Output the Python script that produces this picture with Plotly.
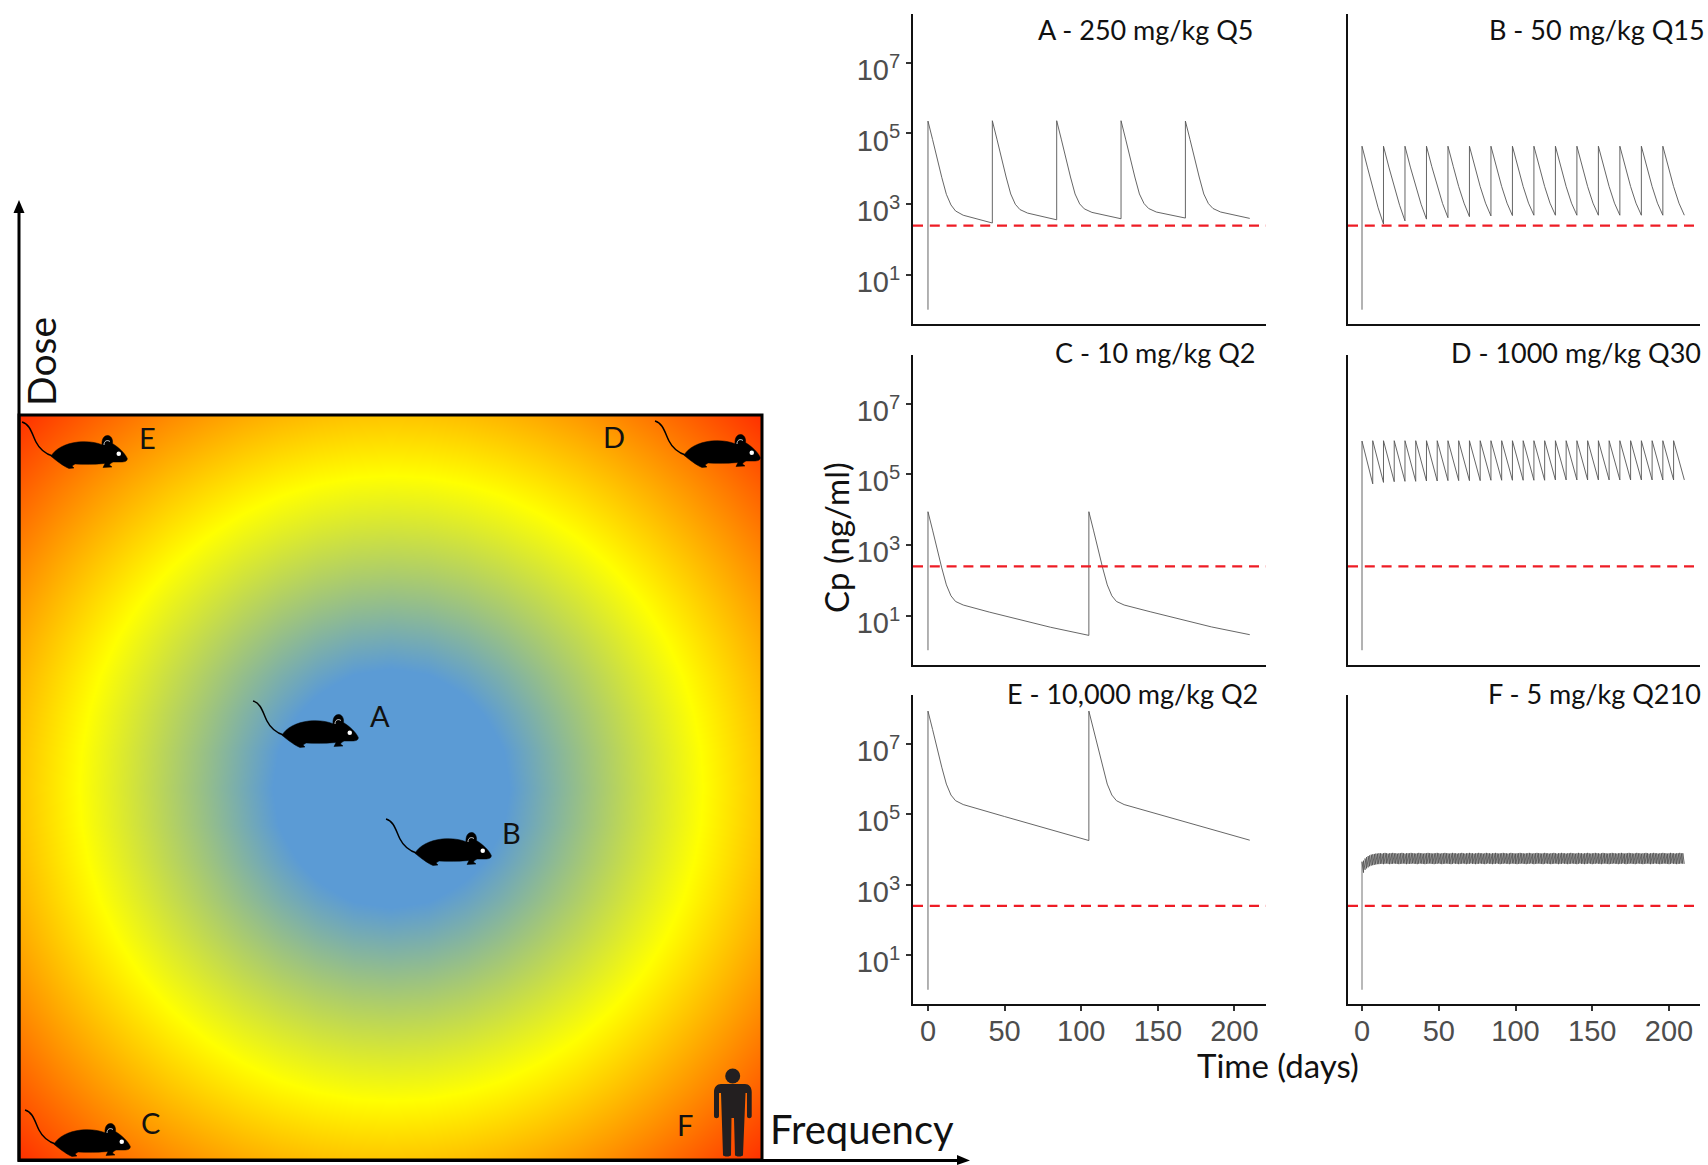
import re
import plotly.graph_objects as go

W, H = 1708, 1165

# ---------- data (log10 concentration in ng/ml) ----------
threshold_log = 2.395
x_ticks = [0, 50, 100, 150, 200]
y_ticks = [1, 3, 5, 7]
panel_titles = ["A - 250 mg/kg Q5", "B - 50 mg/kg Q15", "C - 10 mg/kg Q2",
                "D - 1000 mg/kg Q30", "E - 10,000 mg/kg Q2", "F - 5 mg/kg Q210"]

A_time = [0, 0, 3, 6, 9, 12, 15, 18, 23, 42,
          42, 45, 48, 51, 54, 57, 60, 65, 84,
          84, 87, 90, 93, 96, 99, 102, 107, 126,
          126, 129, 132, 135, 138, 141, 144, 149, 168,
          168, 171, 174, 177, 180, 183, 186, 191, 210]
A_conc = [0.02, 5.35, 4.83, 4.26, 3.76, 3.28, 2.98, 2.81, 2.69, 2.47,
          5.36, 4.84, 4.27, 3.77, 3.29, 3.00, 2.85, 2.75, 2.56,
          5.36, 4.84, 4.27, 3.77, 3.29, 3.01, 2.87, 2.77, 2.59,
          5.36, 4.84, 4.27, 3.77, 3.29, 3.02, 2.88, 2.78, 2.61,
          5.35, 4.83, 4.27, 3.77, 3.29, 3.02, 2.88, 2.78, 2.60]

B_time = [0, 0, 3.5, 7, 10.5, 14, 14, 17.5, 21, 24.5, 28, 28, 31.5, 35, 38.5, 42,
          42, 45.5, 49, 52.5, 56, 56, 59.5, 63, 66.5, 70, 70, 73.5, 77, 80.5, 84,
          84, 87.5, 91, 94.5, 98, 98, 101.5, 105, 108.5, 112, 112, 115.5, 119, 122.5, 126,
          126, 129.5, 133, 136.5, 140, 140, 143.5, 147, 150.5, 154, 154, 157.5, 161, 164.5, 168,
          168, 171.5, 175, 178.5, 182, 182, 185.5, 189, 192.5, 196, 196, 199.5, 203, 206.5, 210]
B_conc = [0.02, 4.64, 4.05, 3.45, 2.90, 2.44, 4.64, 4.05, 3.48, 2.97, 2.53, 4.64, 4.05, 3.49, 3.00, 2.58,
          4.64, 4.06, 3.50, 3.02, 2.62, 4.64, 4.06, 3.50, 3.03, 2.65, 4.64, 4.06, 3.50, 3.03, 2.67,
          4.64, 4.06, 3.50, 3.03, 2.68, 4.64, 4.06, 3.50, 3.03, 2.69, 4.64, 4.06, 3.50, 3.03, 2.69,
          4.64, 4.06, 3.50, 3.03, 2.69, 4.64, 4.06, 3.50, 3.03, 2.69, 4.64, 4.06, 3.50, 3.03, 2.69,
          4.64, 4.06, 3.50, 3.03, 2.69, 4.64, 4.06, 3.50, 3.03, 2.69, 4.64, 4.06, 3.50, 3.03, 2.69]

C_time = [0, 0, 3, 6, 9, 12, 15, 18, 23, 40, 60, 80, 105,
          105, 108, 111, 114, 117, 120, 123, 128, 145, 165, 185, 210]
C_conc = [0.02, 3.94, 3.42, 2.85, 2.35, 1.87, 1.56, 1.40, 1.30, 1.10, 0.88, 0.67, 0.44,
          3.94, 3.42, 2.85, 2.35, 1.87, 1.56, 1.40, 1.30, 1.11, 0.89, 0.68, 0.46]

D_time = [0, 0, 7, 7, 14, 14, 21, 21, 28, 28, 35, 35, 42, 42, 49, 49, 56, 56, 63, 63,
          70, 70, 77, 77, 84, 84, 91, 91, 98, 98, 105, 105, 112, 112, 119, 119, 126, 126,
          133, 133, 140, 140, 147, 147, 154, 154, 161, 161, 168, 168, 175, 175, 182, 182,
          189, 189, 196, 196, 203, 203, 210]
D_conc = [0.02, 5.94, 4.73, 5.95, 4.77, 5.95, 4.79, 5.95, 4.80, 5.95, 4.80, 5.95, 4.81, 5.95, 4.81, 5.95, 4.82, 5.95, 4.82, 5.95,
          4.82, 5.95, 4.82, 5.95, 4.83, 5.95, 4.83, 5.95, 4.83, 5.95, 4.83, 5.95, 4.83, 5.95, 4.83, 5.95, 4.84, 5.95,
          4.84, 5.95, 4.84, 5.95, 4.84, 5.95, 4.84, 5.95, 4.84, 5.95, 4.84, 5.95, 4.84, 5.95, 4.84, 5.95,
          4.84, 5.95, 4.84, 5.95, 4.84, 5.95, 4.84]

E_time = [0, 0, 3, 6, 9, 12, 15, 18, 23, 50, 75, 105,
          105, 108, 111, 114, 117, 120, 123, 128, 155, 180, 210]
E_conc = [0.02, 7.92, 7.40, 6.83, 6.33, 5.85, 5.54, 5.38, 5.27, 4.93, 4.62, 4.25,
          7.92, 7.40, 6.83, 6.33, 5.85, 5.54, 5.38, 5.27, 4.94, 4.63, 4.26]

F_peak = [3.65, 3.68, 3.74, 3.78, 3.81, 3.83, 3.85, 3.86, 3.87, 3.88,
          3.88, 3.89, 3.89, 3.88, 3.89, 3.90, 3.89, 3.88, 3.89, 3.89,
          3.90, 3.89, 3.89, 3.88, 3.89, 3.89, 3.90, 3.89, 3.88, 3.89,
          3.89, 3.89, 3.90, 3.89, 3.89, 3.88, 3.89, 3.90, 3.89, 3.89,
          3.88, 3.89, 3.89, 3.90, 3.89, 3.89, 3.88, 3.89, 3.89, 3.90,
          3.89, 3.88, 3.89, 3.89, 3.90, 3.89, 3.89, 3.88, 3.89, 3.90,
          3.89, 3.89, 3.88, 3.89, 3.89, 3.90, 3.89, 3.88, 3.89, 3.89,
          3.90, 3.89, 3.89, 3.88, 3.89, 3.89, 3.90, 3.89, 3.89, 3.88,
          3.89, 3.90, 3.89, 3.89, 3.88, 3.89, 3.89, 3.90, 3.89, 3.88,
          3.89, 3.89, 3.90, 3.89, 3.89, 3.88, 3.89, 3.90, 3.89, 3.89,
          3.88, 3.89, 3.89, 3.90, 3.89, 3.89, 3.88, 3.89, 3.89, 3.90,
          3.89, 3.88, 3.89, 3.89, 3.90, 3.89, 3.89, 3.88, 3.89, 3.90,
          3.89, 3.89, 3.88, 3.89, 3.89, 3.90, 3.89, 3.88, 3.89, 3.89,
          3.90, 3.89, 3.89, 3.88, 3.89, 3.89, 3.90, 3.89, 3.89, 3.88,
          3.89, 3.90, 3.89, 3.89, 3.88, 3.89, 3.89, 3.90, 3.89, 3.88,
          3.89, 3.89, 3.90, 3.89, 3.89, 3.88, 3.89, 3.90, 3.89, 3.89,
          3.88, 3.89, 3.89, 3.90, 3.89, 3.89, 3.88, 3.89, 3.89, 3.90,
          3.89, 3.88, 3.89, 3.89, 3.90, 3.89, 3.89, 3.88, 3.89, 3.90,
          3.89, 3.89, 3.88, 3.89, 3.89, 3.90, 3.89, 3.88, 3.89, 3.89,
          3.90, 3.89, 3.89, 3.88, 3.89, 3.89, 3.90, 3.89, 3.89, 3.88,
          3.89, 3.90, 3.89, 3.89, 3.88, 3.89, 3.89, 3.90, 3.89, 3.89]
F_trough = [3.34, 3.42, 3.46, 3.49, 3.52, 3.54, 3.55, 3.56, 3.57, 3.58,
            3.58, 3.59, 3.59, 3.58, 3.59, 3.60, 3.59, 3.58, 3.59, 3.59,
            3.60, 3.59, 3.59, 3.58, 3.59, 3.59, 3.60, 3.59, 3.58, 3.59,
            3.59, 3.59, 3.60, 3.59, 3.59, 3.58, 3.59, 3.60, 3.59, 3.59,
            3.58, 3.59, 3.59, 3.60, 3.59, 3.59, 3.58, 3.59, 3.59, 3.60,
            3.59, 3.58, 3.59, 3.59, 3.60, 3.59, 3.59, 3.58, 3.59, 3.60,
            3.59, 3.59, 3.58, 3.59, 3.59, 3.60, 3.59, 3.58, 3.59, 3.59,
            3.60, 3.59, 3.59, 3.58, 3.59, 3.59, 3.60, 3.59, 3.59, 3.58,
            3.59, 3.60, 3.59, 3.59, 3.58, 3.59, 3.59, 3.60, 3.59, 3.58,
            3.59, 3.59, 3.60, 3.59, 3.59, 3.58, 3.59, 3.60, 3.59, 3.59,
            3.58, 3.59, 3.59, 3.60, 3.59, 3.59, 3.58, 3.59, 3.59, 3.60,
            3.59, 3.58, 3.59, 3.59, 3.60, 3.59, 3.59, 3.58, 3.59, 3.60,
            3.59, 3.59, 3.58, 3.59, 3.59, 3.60, 3.59, 3.58, 3.59, 3.59,
            3.60, 3.59, 3.59, 3.58, 3.59, 3.59, 3.60, 3.59, 3.59, 3.58,
            3.59, 3.60, 3.59, 3.59, 3.58, 3.59, 3.59, 3.60, 3.59, 3.58,
            3.59, 3.59, 3.60, 3.59, 3.59, 3.58, 3.59, 3.60, 3.59, 3.59,
            3.58, 3.59, 3.59, 3.60, 3.59, 3.59, 3.58, 3.59, 3.59, 3.60,
            3.59, 3.58, 3.59, 3.59, 3.60, 3.59, 3.59, 3.58, 3.59, 3.60,
            3.59, 3.59, 3.58, 3.59, 3.59, 3.60, 3.59, 3.58, 3.59, 3.59,
            3.60, 3.59, 3.59, 3.58, 3.59, 3.59, 3.60, 3.59, 3.59, 3.58,
            3.59, 3.60, 3.59, 3.59, 3.58, 3.59, 3.59, 3.60, 3.59, 3.59]

# left panel: position in the dose/frequency plane (distance from the optimum)
plane_axis = [-10, -9, -8, -7, -6, -5, -4, -3, -2, -1, 0, 1, 2, 3, 4, 5, 6, 7, 8, 9, 10]
plane_quarter = [
    [0, 1, 2, 3, 4, 5, 6, 7, 8, 9, 10],
    [1, 1.41, 2.24, 3.16, 4.12, 5.10, 6.08, 7.07, 8.06, 9.06, 10.05],
    [2, 2.24, 2.83, 3.61, 4.47, 5.39, 6.32, 7.28, 8.25, 9.22, 10.2],
    [3, 3.16, 3.61, 4.24, 5, 5.83, 6.71, 7.62, 8.54, 9.49, 10.44],
    [4, 4.12, 4.47, 5, 5.66, 6.40, 7.21, 8.06, 8.94, 9.85, 10.77],
    [5, 5.10, 5.39, 5.83, 6.40, 7.07, 7.81, 8.60, 9.43, 10.30, 11.18],
    [6, 6.08, 6.32, 6.71, 7.21, 7.81, 8.49, 9.22, 10, 10.82, 11.66],
    [7, 7.07, 7.28, 7.62, 8.06, 8.60, 9.22, 9.90, 10.63, 11.40, 12.21],
    [8, 8.06, 8.25, 8.54, 8.94, 9.43, 10, 10.63, 11.31, 12.04, 12.81],
    [9, 9.06, 9.22, 9.49, 9.85, 10.30, 10.82, 11.40, 12.04, 12.73, 13.45],
    [10, 10.05, 10.2, 10.44, 10.77, 11.18, 11.66, 12.21, 12.81, 13.45, 14.14],
]
plane_labels = ["A", "B", "C", "D", "E", "F"]

# ---------- helpers ----------
def px(x): return x / W
def py(y): return 1 - y / H
def ten(vals): return [10 ** v for v in vals]

def to_paper(path, ox=0, oy=0):
    return re.sub(r"(-?[\d.]+),(-?[\d.]+)",
                  lambda m: f"{px(float(m[1]) + ox):.5f},{py(float(m[2]) + oy):.5f}", path)

fig = go.Figure()
shapes, annotations = [], []

# ---------- left gradient plane ----------
half = [list(reversed(r[1:])) + r for r in plane_quarter]
plane_z = list(reversed(half[1:])) + half
zmax = 14.14
fig.add_trace(go.Heatmap(
    x=plane_axis, y=plane_axis, z=plane_z, zmin=0, zmax=zmax, zsmooth="best", showscale=False,
    hoverinfo="skip", xaxis="x7", yaxis="y7",
    colorscale=[[0, "#5b9bd5"], [3.2 / zmax, "#5b9bd5"], [8.4 / zmax, "#ffff00"], [1, "#ff3000"]]))
PL, PR, PT, PB = 20, 762, 416, 1160
layout_axes = {
    "xaxis7": dict(domain=[px(PL), px(PR)], range=[-10, 10], visible=False, anchor="y7"),
    "yaxis7": dict(domain=[py(PB), py(PT)], range=[-10, 10], visible=False, anchor="x7"),
}

# ---------- small panels ----------
panels = [
    (A_time, A_conc, 913, 1266, 14, 324, -9.77, 220.6),
    (B_time, B_conc, 1348, 1700, 14, 324, -9.12, 220.2),
    (C_time, C_conc, 913, 1266, 355, 664.5, -9.77, 220.6),
    (D_time, D_conc, 1348, 1700, 355, 664.5, -9.12, 220.2),
    (E_time, E_conc, 913, 1266, 695, 1004, -9.77, 220.6),
    ([], [], 1348, 1700, 695, 1004, -9.12, 220.2),
]
F_x, F_y = [0], [0.02]
for d, (p, t) in enumerate(zip(F_peak, F_trough)):
    F_x += [d, d + 1]
    F_y += [p, t]

title_pos = [(1256, 29), (1707, 29), (1258, 352), (1703, 352), (1260, 693), (1703, 693)]
for i, (tx, ty, l, r, t, b, x0, x1) in enumerate(panels):
    n = i + 1
    if i == 5:
        tx, ty = F_x, F_y
    fig.add_trace(go.Scatter(x=tx, y=ten(ty), mode="lines", xaxis=f"x{n}", yaxis=f"y{n}",
                             line=dict(color="#555555" if i < 5 else "#444444", width=0.9 if i < 5 else 0.75),
                             hoverinfo="skip"))
    fig.add_trace(go.Scatter(x=[x0, x1], y=ten([threshold_log, threshold_log]), mode="lines",
                             xaxis=f"x{n}", yaxis=f"y{n}",
                             line=dict(color="#ee1c25", width=2.2, dash="10px,6.8px"), hoverinfo="skip"))
    bottom = i >= 4
    left = i % 2 == 0
    layout_axes[f"xaxis{n}"] = dict(
        domain=[px(l), px(r)], range=[x0, x1], anchor=f"y{n}", showgrid=False, zeroline=False,
        showline=True, linecolor="#111111", linewidth=2,
        tickmode="array", tickvals=x_ticks if bottom else [], ticks="outside" if bottom else "",
        ticklen=5, tickwidth=1.5, tickcolor="#333333", ticklabelstandoff=-5 if bottom else 0,
        showticklabels=bottom, tickfont=dict(family="Liberation Sans", size=29, color="#4d4d4d"))
    layout_axes[f"yaxis{n}"] = dict(
        type="log", domain=[py(b), py(t)], range=[-0.384, 8.376], anchor=f"x{n}", showgrid=False,
        zeroline=False, showline=True, linecolor="#111111", linewidth=2,
        tickmode="array", tickvals=[10 ** v for v in y_ticks] if left else [],
        ticktext=[f"10<sup>{v}</sup>" for v in y_ticks] if left else [],
        ticks="outside" if left else "", ticklen=5, tickwidth=1.5, tickcolor="#333333",
        ticklabelshift=7 if left else 0,
        showticklabels=left, tickfont=dict(family="Liberation Sans", size=29, color="#4d4d4d"))
    annotations.append(dict(xref="paper", yref="paper", x=px(title_pos[i][0]), y=py(title_pos[i][1]),
                            text=panel_titles[i], showarrow=False, xanchor="right", yanchor="middle",
                            font=dict(family="Lato", size=27, color="#111111")))

# ---------- left diagram decoration ----------
shapes.append(dict(type="rect", xref="paper", yref="paper", x0=px(PL - 1), x1=px(PR), y0=py(PB), y1=py(PT - 1),
                   line=dict(color="#000000", width=3), fillcolor="rgba(0,0,0,0)"))
shapes.append(dict(type="line", xref="paper", yref="paper", x0=px(19), x1=px(19), y0=py(1162), y1=py(210),
                   line=dict(color="#000000", width=3)))
shapes.append(dict(type="line", xref="paper", yref="paper", x0=px(18), x1=px(960), y0=py(1160.5), y1=py(1160.5),
                   line=dict(color="#000000", width=3)))
shapes.append(dict(type="path", xref="paper", yref="paper", path=to_paper("M13.5,213 L19,200 L24.5,213 Z"),
                   fillcolor="#000000", line=dict(width=0)))
shapes.append(dict(type="path", xref="paper", yref="paper", path=to_paper("M957,1155 L970,1160.5 L957,1165 Z"),
                   fillcolor="#000000", line=dict(width=0)))

MOUSE_BODY = ("M29,34.3 C33,27 43,21.5 56,20 C66,19 74,20.5 80,22.7 C79.5,16 83,13 86,13.5 "
              "C89.5,14 91,18 90.5,21.5 C96,25 103,31 105.3,36.5 C105.5,39 103,40 99,40 L91,40 "
              "C89,41 88,42 87.5,43 L90,45 L81,45.5 L83,41.5 C72,42.5 62,42.5 53,42 "
              "L50,44 L52,46 L47,46.5 C43,45 36,40 33,37.5 Z")
MOUSE_TAIL = "M0,0 C8,2 10,12 14,20 C18,28 24,32 31,34.3"
MOUSE_EAR = "M82,23 C82,19 85,17.5 88,19.5"
mice = [(253, 701), (386, 819), (25, 1110), (655, 421), (22, 422)]
for ox, oy in mice:
    shapes.append(dict(type="path", xref="paper", yref="paper", path=to_paper(MOUSE_TAIL, ox, oy),
                       line=dict(color="#000000", width=1.5), fillcolor="rgba(0,0,0,0)"))
    shapes.append(dict(type="path", xref="paper", yref="paper", path=to_paper(MOUSE_BODY, ox, oy),
                       line=dict(color="#000000", width=0.5), fillcolor="#000000"))
    shapes.append(dict(type="path", xref="paper", yref="paper", path=to_paper(MOUSE_EAR, ox, oy),
                       line=dict(color="#ffffff", width=0.8), fillcolor="rgba(0,0,0,0)"))
    shapes.append(dict(type="circle", xref="paper", yref="paper",
                       x0=px(ox + 94.5), x1=px(ox + 99), y0=py(oy + 34), y1=py(oy + 29.5),
                       line=dict(width=0), fillcolor="#ffffff"))

HUMAN = ("M721,1084 L745,1084 C749,1084 751.7,1087 751.7,1092 L751.7,1116 C751.7,1119 747,1119 747,1116 "
         "L747,1093 L745.5,1093 L743,1155 C743,1157 735,1157 735,1155 L734,1118 L731.5,1118 L731,1155 "
         "C731,1157 723,1157 723,1155 L721,1093 L719,1093 L719,1116 C719,1119 714,1119 714,1116 "
         "L714,1092 C714,1087 717,1084 721,1084 Z")
shapes.append(dict(type="path", xref="paper", yref="paper", path=to_paper(HUMAN),
                   fillcolor="#231f20", line=dict(width=0)))
shapes.append(dict(type="circle", xref="paper", yref="paper", x0=px(725.2), x1=px(740.2), y0=py(1083.5), y1=py(1068.5),
                   fillcolor="#231f20", line=dict(width=0)))

label_pos = [(380, 715), (511, 832), (150, 1122), (614, 436), (147, 437), (685, 1124)]
for lab, (x, y) in zip(plane_labels, label_pos):
    annotations.append(dict(xref="paper", yref="paper", x=px(x), y=py(y), text=lab, showarrow=False,
                            xanchor="center", yanchor="middle", font=dict(family="Lato", size=29, color="#111111")))

def big(text, x, y, size, angle=0):
    annotations.append(dict(xref="paper", yref="paper", x=px(x), y=py(y), text=text, showarrow=False,
                            xanchor="center", yanchor="middle", textangle=angle,
                            font=dict(family="Lato", size=size, color="#111111")))

big("Dose", 41, 362, 39, -90)
big("Frequency", 862, 1129, 40)
big("Cp (ng/ml)", 836, 538, 33, -90)
big("Time (days)", 1278, 1065, 33)

fig.update_layout(width=W, height=H, margin=dict(l=0, r=0, t=0, b=0), autosize=False,
                  paper_bgcolor="#ffffff", plot_bgcolor="#ffffff", showlegend=False,
                  shapes=shapes, annotations=annotations, **layout_axes)

fig.write_html("out.html", config={"displayModeBar": False},
               post_script="document.body.style.margin='0';document.body.style.overflow='hidden';")
